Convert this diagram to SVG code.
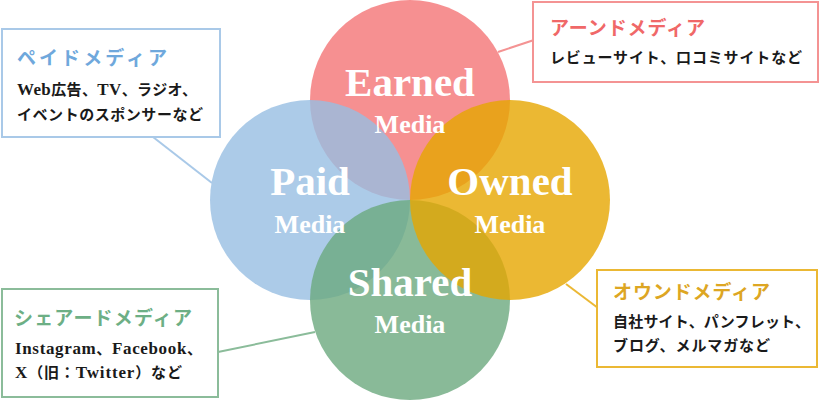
<svg xmlns="http://www.w3.org/2000/svg" width="820" height="400" viewBox="0 0 820 400">
<style>
.circ{opacity:0.8}
.big{font-family:"Liberation Serif","Noto Sans CJK JP",serif;font-weight:bold;font-size:41px;fill:#fff;text-anchor:middle}
.med{font-family:"Liberation Serif","Noto Sans CJK JP",serif;font-weight:bold;font-size:26px;fill:#fff;text-anchor:middle}
.box{fill:#fff;stroke-width:2}
.ttl{font-family:"Noto Sans CJK JP",sans-serif;font-weight:bold;font-size:19px}
.body{font-family:"Liberation Serif","Noto Sans CJK JP",serif;font-weight:bold;font-size:15px;fill:#1a1a1a}
.lat{font-size:17px}
.con line{stroke-width:2}
</style>
<rect width="820" height="400" fill="#fff"/>
<g id="circles">
<circle class="circ" cx="410" cy="100" r="100" fill="#F47476"/>
<circle class="circ" cx="310" cy="200" r="100" fill="#97BEE2"/>
<circle class="circ" cx="410" cy="300" r="100" fill="#6CA97E"/>
<circle class="circ" cx="510" cy="200" r="100" fill="#E6A600"/>
</g>
<g id="connectors" class="con">
<line x1="153" y1="137" x2="212" y2="183" stroke="#A9C9E8"/>
<line x1="498" y1="52" x2="534" y2="40" stroke="#F49393"/>
<line x1="218" y1="352" x2="315" y2="332" stroke="#8BBC9A"/>
<line x1="566" y1="284" x2="598" y2="308" stroke="#EBB834"/>
</g>
<g id="earned">
<text class="big" x="410" y="96">Earned</text>
<text class="med" x="410" y="133">Media</text>
</g>
<g id="paid">
<text class="big" x="310" y="195">Paid</text>
<text class="med" x="310" y="233">Media</text>
</g>
<g id="owned">
<text class="big" x="510" y="195">Owned</text>
<text class="med" x="510" y="233">Media</text>
</g>
<g id="shared">
<text class="big" x="410" y="296">Shared</text>
<text class="med" x="410" y="333">Media</text>
</g>
<g id="paid-box">
<rect class="box" x="2" y="29" width="218" height="108" stroke="#A9C9E8"/>
<text class="ttl" x="17" y="65" fill="#6FA8DC" textLength="150" lengthAdjust="spacing">ペイドメディア</text>
<text class="body" x="17" y="95" textLength="180" lengthAdjust="spacing"><tspan class="lat">Web</tspan>広告、<tspan class="lat">TV</tspan>、ラジオ、</text>
<text class="body" x="17" y="120" textLength="186" lengthAdjust="spacing">イベントのスポンサーなど</text>
</g>
<g id="earned-box">
<rect class="box" x="533" y="2" width="285" height="80" stroke="#F49393"/>
<text class="ttl" x="550" y="35" fill="#F06868" textLength="155" lengthAdjust="spacing">アーンドメディア</text>
<text class="body" x="550" y="63" textLength="252" lengthAdjust="spacing">レビューサイト、口コミサイトなど</text>
</g>
<g id="shared-box">
<rect class="box" x="2" y="289" width="216" height="108" stroke="#8BBC9A"/>
<text class="ttl" x="14" y="325" fill="#6DAF85" textLength="178" lengthAdjust="spacing">シェアードメディア</text>
<text class="body" x="15" y="354" textLength="187" lengthAdjust="spacing"><tspan class="lat">Instagram</tspan>、<tspan class="lat">Facebook</tspan>、</text>
<text class="body" x="15" y="378" textLength="167" lengthAdjust="spacing"><tspan class="lat">X</tspan>（旧：<tspan class="lat">Twitter</tspan>）など</text>
</g>
<g id="owned-box">
<rect class="box" x="597" y="270" width="220" height="97" stroke="#EBB834"/>
<text class="ttl" x="613" y="299" fill="#DDA623" textLength="157" lengthAdjust="spacing">オウンドメディア</text>
<text class="body" x="613" y="327" textLength="197" lengthAdjust="spacing">自社サイト、パンフレット、</text>
<text class="body" x="613" y="351" textLength="157" lengthAdjust="spacing">ブログ、メルマガなど</text>
</g>
</svg>
